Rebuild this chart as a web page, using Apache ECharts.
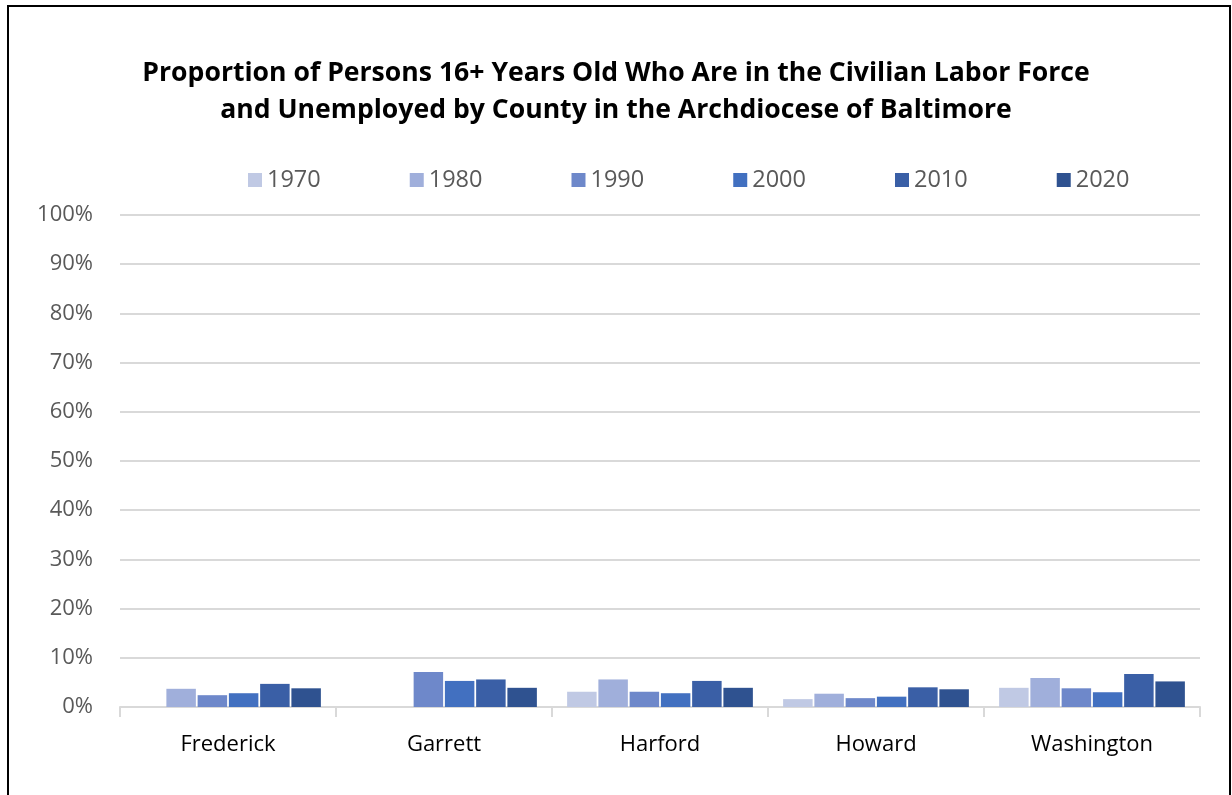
<!DOCTYPE html>
<html><head><meta charset="utf-8">
<script src="https://cdn.jsdelivr.net/npm/echarts@6/dist/echarts.min.js"></script>
<style>html,body{margin:0;padding:0;background:#fff}#c{width:1232px;height:795px}</style>
</head><body><div id="c"></div>
<script>
const counties = ['Frederick','Garrett','Harford','Howard','Washington'];
const years = ['1970','1980','1990','2000','2010','2020'];
const v1970 = [null, null, 3.1, 1.6, 3.9];
const v1980 = [3.7, null, 5.6, 2.7, 5.9];
const v1990 = [2.4, 7.1, 3.1, 1.8, 3.8];
const v2000 = [2.8, 5.3, 2.8, 2.1, 3.0];
const v2010 = [4.7, 5.6, 5.3, 4.0, 6.7];
const v2020 = [3.8, 3.9, 3.9, 3.6, 5.2];
const yTicks = [0,10,20,30,40,50,60,70,80,90,100];
const colors = ['#C0C9E4','#A0AFDB','#6E88CA','#4270C0','#3A5FA6','#2F5290'];
const seriesVals = [v1970,v1980,v1990,v2000,v2010,v2020];
const font = '"Open Sans", "Noto Sans", sans-serif';
const chart = echarts.init(document.getElementById('c'));
chart.setOption({
  animation:false,
  title:{text:'Proportion of Persons 16+ Years Old Who Are in the Civilian Labor Force\nand Unemployed by County in the Archdiocese of Baltimore',
    left:'center', top:50,
    textStyle:{fontFamily:font, fontWeight:'bold', fontSize:26.6, lineHeight:37, color:'#000'}},
  legend:{data:years, left:248, top:168, padding:0, itemWidth:14, itemHeight:14, itemGap:89, icon:'rect',
    textStyle:{fontFamily:font, fontSize:23.5, color:'#595959'}},
  grid:{left:120, right:32, top:215, bottom:88},
  xAxis:{type:'category', data:counties,
    axisLine:{lineStyle:{color:'#D9D9D9', width:2}},
    axisTick:{show:true, length:10, lineStyle:{color:'#D9D9D9', width:2}},
    axisLabel:{fontFamily:font, fontSize:22, color:'#000', margin:27}},
  yAxis:{type:'value', min:0, max:100, interval:10,
    axisLine:{show:false}, axisTick:{show:false},
    splitLine:{lineStyle:{color:'#D9D9D9', width:2}},
    axisLabel:{fontFamily:font, fontSize:22, color:'#595959', margin:27, formatter:v=>yTicks.includes(v)?v+'%':''}},
  series: years.map((y,i)=>({name:y, type:'bar', data:seriesVals[i], barGap:'6%', barCategoryGap:'14%',
    itemStyle:{color:colors[i]}})),
  graphic:[{type:'rect', shape:{x:8,y:6,width:1222,height:800}, style:{fill:'none', stroke:'#000', lineWidth:2}, silent:true}]
});
</script></body></html>
